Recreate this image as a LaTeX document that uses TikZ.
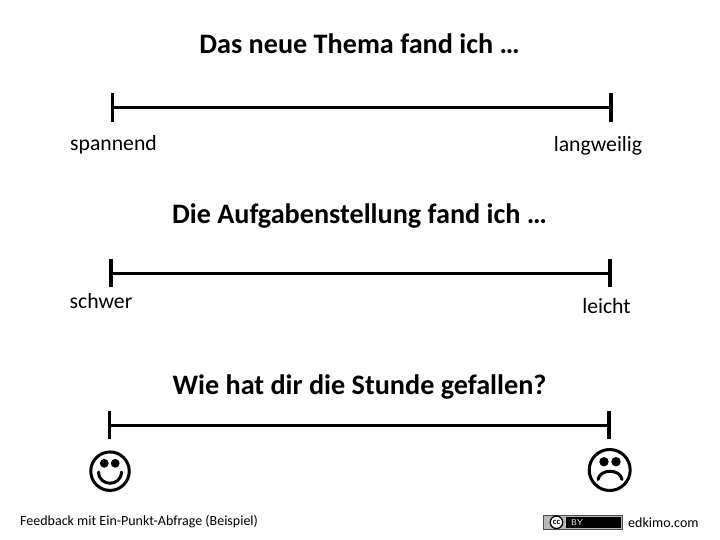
\documentclass[tikz,border=0pt]{standalone}
\usepackage{fontspec}
\setmainfont{Carlito}
\tikzset{
 x=1pt,y=-1pt,
 scaleline/.style={line width=3pt,black},
 tick/.style={line width=3.2pt,black},
 title/.style={font=\fontsize{28.2}{32}\selectfont\bfseries,inner sep=0pt,anchor=base},
 endlabel/.style={font=\fontsize{21.7}{26}\selectfont,inner sep=0pt,anchor=base},
 foot/.style={font=\fontsize{14}{17}\selectfont,inner sep=0pt,anchor=base west},
 face/.style={line width=3pt,black},
}
\begin{document}
\begin{tikzpicture}
\useasboundingbox (0,0) rectangle (720,540);
\node[title] (t1) at (359.5,54) {Das neue Thema fand ich …};
\node[title] (t2) at (359.5,224) {Die Aufgabenstellung fand ich …};
\node[title] (t3) at (359.5,394) {Wie hat dir die Stunde gefallen?};
% scales
\coordinate (a1) at (112.5,107.5); \coordinate (b1) at (611,107.5);
\coordinate (a2) at (111,273); \coordinate (b2) at (610,273);
\coordinate (a3) at (109.5,425); \coordinate (b3) at (609,425);
\draw[scaleline] (a1) -- (b1);
\draw[scaleline] (a2) -- (b2);
\draw[scaleline] (a3) -- (b3);
\foreach \p in {a1,b1,a2,b2,a3,b3}{
 \draw[tick] ([yshift=14.3pt]\p) -- ([yshift=-14.3pt]\p);
}
\node[endlabel] (l1) at (113.5,151) {spannend};
\node[endlabel] (r1) at (598,151.5) {langweilig};
\node[endlabel] (l2) at (101,308.5) {schwer};
\node[endlabel] (r2) at (606.5,313.5) {leicht};
% happy face
\node[circle,draw,face,minimum size=38.5pt,inner sep=0pt] (happy) at (110,471.2) {};
\fill (104.3,463.3) circle (4.4);
\fill (115.2,463.3) circle (4.4);
\draw[face,line cap=round] (98.5,472) .. controls (99,487) and (121,487) .. (121.5,472);
% sad face
\node[circle,draw,face,minimum size=41pt,inner sep=0pt] (sad) at (609.7,470) {};
\fill (604,461.7) circle (4.7);
\fill (616,461.7) circle (4.7);
\draw[face,line cap=round] (598,479.5) .. controls (600,468.5) and (620,468.5) .. (622,479.5);
% footer
\node[foot] (fb) at (20,525.5) {Feedback mit Ein-Punkt-Abfrage (Beispiel)};
\node[foot] (ed) at (628,527) {edkimo.com};
% cc badge
\fill[gray!55] (543.5,515.5) rectangle (622,529);
\fill[black] (566,517) rectangle (620.8,527.8);
\draw[black!70,line width=.7pt] (543.5,515.5) rectangle (622,529);
\node[circle,fill=white,draw=black,line width=1.3pt,minimum size=12.5pt,inner sep=0pt,font=\fontsize{8.5}{8}\selectfont\bfseries] (cc) at (556.5,522.3) {cc};
\node[text=white,font=\fontsize{8.5}{8}\selectfont\sffamily,inner sep=0pt] (by) at (577,522.5) {BY};
\end{tikzpicture}
\end{document}
